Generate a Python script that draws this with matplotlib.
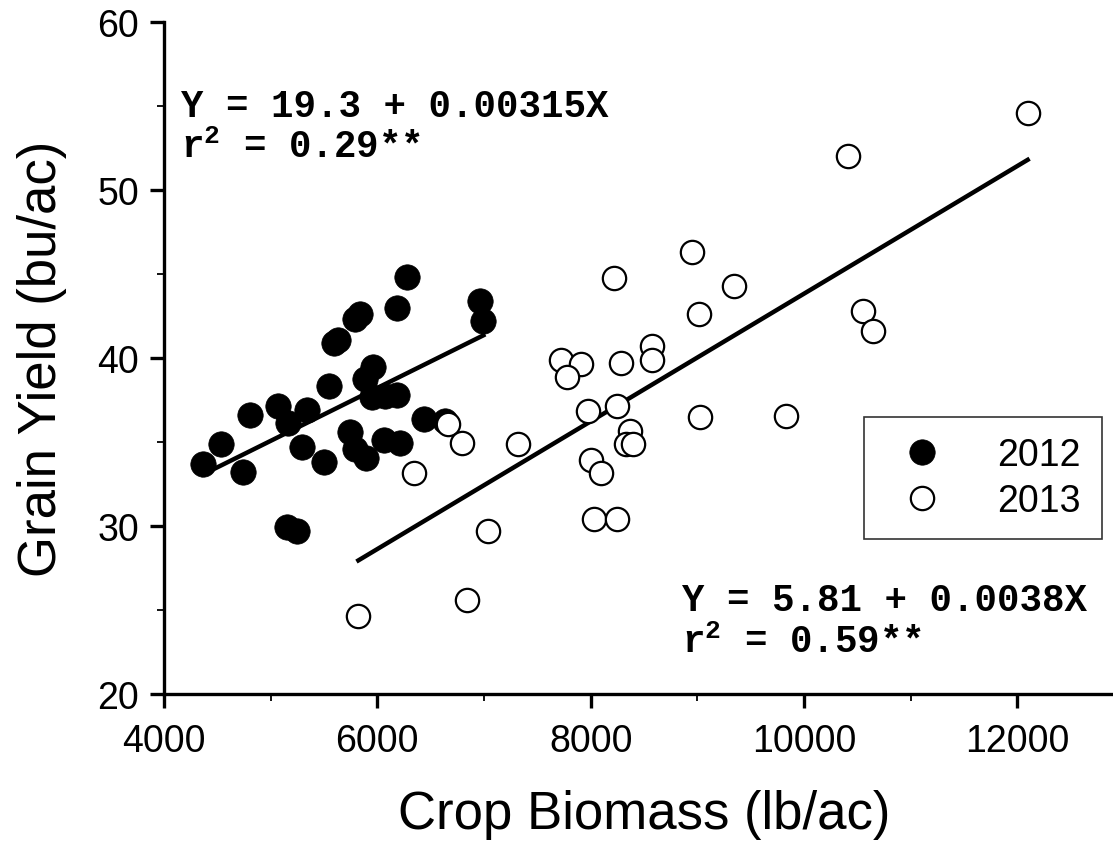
import numpy as np
import matplotlib
matplotlib.use('Agg')
import matplotlib.pyplot as plt

plt.rcParams['mathtext.fontset'] = 'custom'
plt.rcParams['mathtext.rm'] = 'Liberation Mono:bold'
plt.rcParams['mathtext.bf'] = 'Liberation Mono:bold'

# crop biomass (lb/ac) and grain yield (bu/ac)
biomass_2012 = [4363, 4534, 4744, 4806, 5072, 5166, 5338, 5291, 5150, 5250,
                5503, 5547, 5590, 5630, 5790, 5840, 5744, 5791, 5894, 5884,
                5963, 5947, 6072, 6181, 6062, 6212, 6187, 6281, 6440, 6634,
                6962, 6994]
yield_2012 = [33.67, 34.86, 33.18, 36.61, 37.14, 36.11, 36.89, 34.67, 29.94, 29.70,
              33.77, 38.30, 40.85, 41.05, 42.3, 42.6, 35.56, 34.57, 34.01, 38.73,
              39.43, 37.64, 37.74, 37.78, 35.12, 34.90, 42.96, 44.78, 36.35, 36.25,
              43.39, 42.17]

biomass_2013 = [6666, 6791, 6344, 7040, 6844, 7322, 5822, 7722, 7906, 7775,
                8219, 8281, 8578, 8578, 8953, 9016, 9025, 7978, 8244, 8369,
                8331, 8400, 8003, 8094, 8034, 8250, 12097, 10416, 9344, 9828,
                10550, 10650]
yield_2013 = [36.05, 34.92, 33.14, 29.70, 25.58, 34.86, 24.64, 39.88, 39.62, 38.87,
              44.74, 39.68, 40.68, 39.88, 46.31, 42.60, 36.49, 36.85, 37.14, 35.65,
              34.86, 34.86, 33.91, 33.12, 30.40, 30.40, 54.55, 51.99, 44.29, 36.55,
              42.80, 41.61]

# regression fits shown on the chart
intercept_2012, slope_2012 = 19.3, 0.00315
intercept_2013, slope_2013 = 5.81, 0.0038

fig = plt.figure(figsize=(11.13, 8.54), dpi=100)
ax = fig.add_axes([164 / 1113, 1 - 694.7 / 854, 960 / 1113, 672 / 854])

x12 = np.array([min(biomass_2012), max(biomass_2012)])
x13 = np.array([min(biomass_2013), max(biomass_2013)])
ax.plot(x12, intercept_2012 + slope_2012 * x12, color='black', lw=3.2, zorder=2)
ax.plot(x13, intercept_2013 + slope_2013 * x13, color='black', lw=3.2, zorder=2)

ax.plot(biomass_2012, yield_2012, 'o', ls='none', ms=18.3, mfc='black', mec='black',
        mew=0.5, label='2012', zorder=3)
ax.plot(biomass_2013, yield_2013, 'o', ls='none', ms=16.8, mfc='white', mec='black',
        mew=1.6, label='2013', zorder=4)

ax.set_xlim(4000, 13000)
ax.set_ylim(20, 60)
ax.set_xticks([4000, 6000, 8000, 10000, 12000])
ax.set_xticks([5000, 7000, 9000, 11000], minor=True)
ax.set_yticks([20, 30, 40, 50, 60])
ax.set_yticks([25, 35, 45, 55], minor=True)

for side in ['top', 'right']:
    ax.spines[side].set_visible(False)
for side in ['left', 'bottom']:
    ax.spines[side].set_linewidth(2.4)

ax.tick_params(which='major', direction='out', length=10, width=2.4, labelsize=27,
               labelfontfamily='Liberation Sans')
ax.tick_params(which='minor', direction='out', length=5, width=1.3)
ax.tick_params(axis='x', which='major', pad=11)
ax.tick_params(axis='y', which='major', pad=8)

ax.set_xlabel('Crop Biomass (lb/ac)', fontsize=38, family='Liberation Sans')
ax.set_ylabel('Grain Yield (bu/ac)', fontsize=38, family='Liberation Sans')
ax.xaxis.label.set_va('center')
ax.yaxis.label.set_va('center')
ax.xaxis.set_label_coords(0.5, (694.7 - 815) / 672)
ax.yaxis.set_label_coords((42 - 164) / 960, 0.5)

mono = dict(family='Liberation Mono', weight='bold', fontsize=27, color='black',
            va='center', ha='left')
ax.text(4160, 55.0, 'Y = 19.3 + 0.00315X', **mono)
ax.text(4160, 52.55, r'r$^{2}$ = 0.29**', **mono)
ax.text(8860, 25.55, 'Y = 5.81 + 0.0038X', **mono)
ax.text(8860, 23.1, r'r$^{2}$ = 0.59**', **mono)

leg = ax.legend(loc='center', bbox_to_anchor=(0.853, 0.321),
                prop={'family': 'Liberation Sans', 'size': 27},
                frameon=True, fancybox=False, edgecolor='black', handlelength=2.0,
                handletextpad=1.0, borderpad=0.55, labelspacing=0.25, borderaxespad=0,
                numpoints=1)
leg.get_frame().set_linewidth(1.2)

fig.savefig('out.png', dpi=100)
